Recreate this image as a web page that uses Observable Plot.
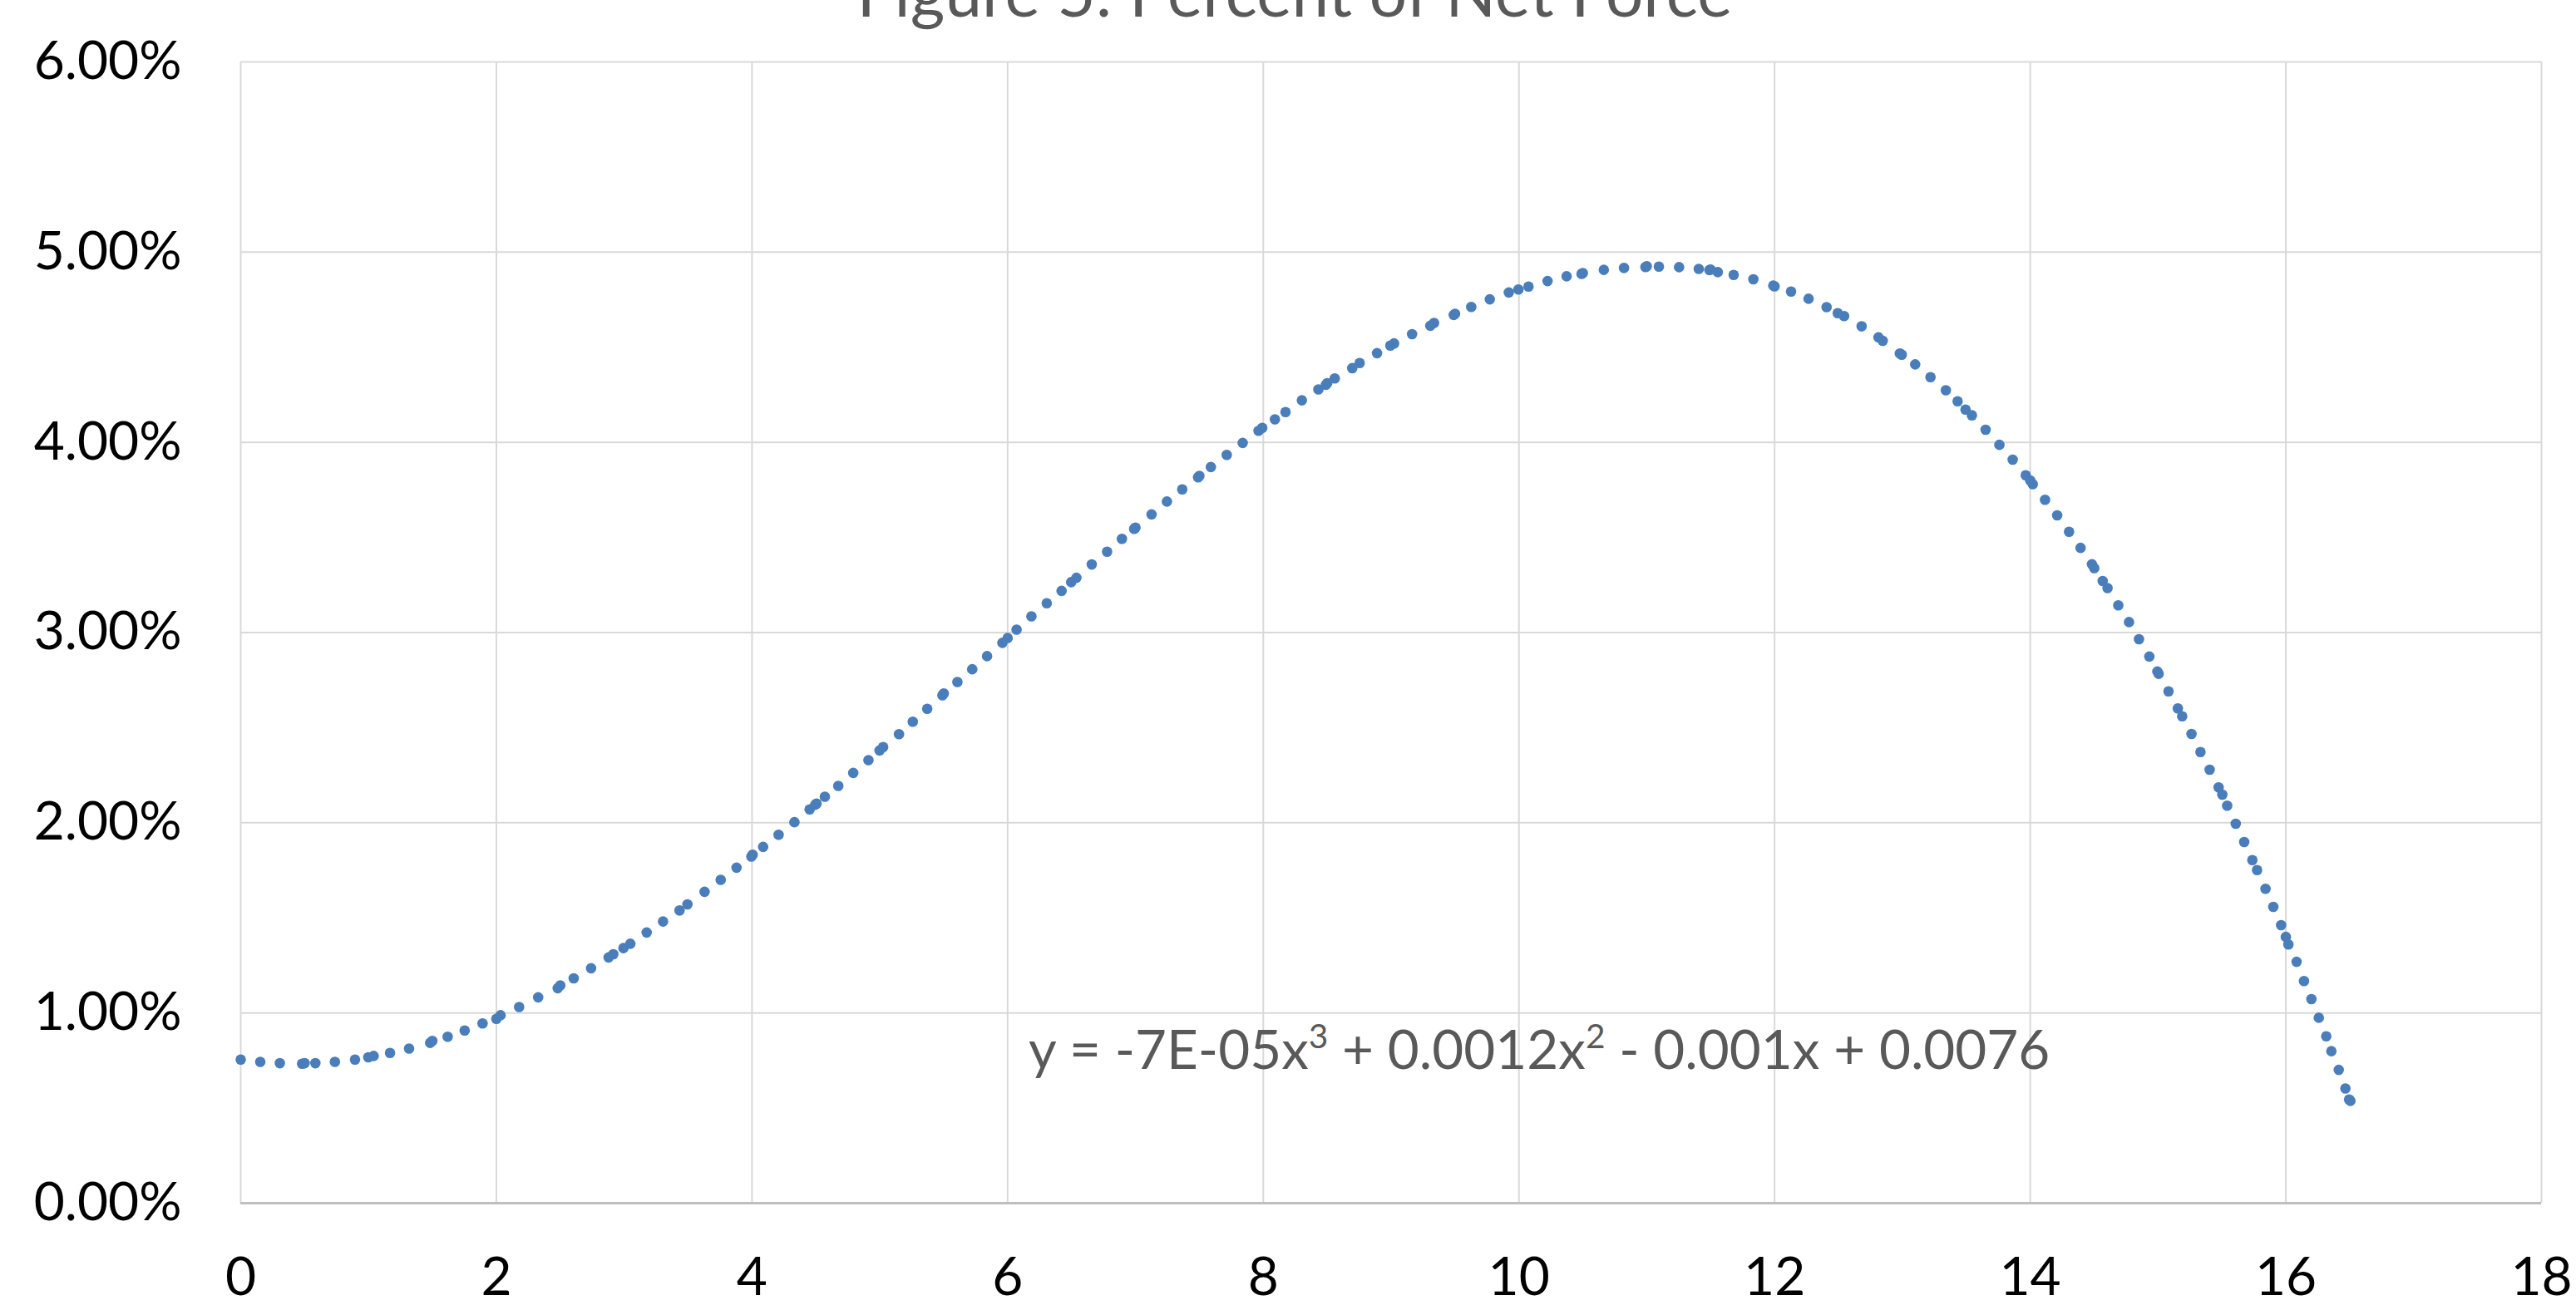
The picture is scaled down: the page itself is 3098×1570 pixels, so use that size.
<!DOCTYPE html>
<html>
<head>
<meta charset="utf-8">
<script src="https://cdn.jsdelivr.net/npm/d3@7"></script>
<script src="https://cdn.jsdelivr.net/npm/@observablehq/plot@0.6"></script>
<style>
  html, body { margin: 0; padding: 0; background: #fff; overflow: hidden; }
  #wrap { position: relative; width: 3098px; height: 1570px; font-family: Lato, "Open Sans", sans-serif; overflow: hidden; }
  #title { position: absolute; left: 0; top: -51px; width: 3098px; box-sizing: border-box; padding-left: 16px;
           text-align: center; font-size: 80px; line-height: 80px; color: #595959; white-space: nowrap; }
  #eq { position: absolute; left: 1237px; top: 1229px; font-size: 65.5px; line-height: 64px; color: #595959; white-space: nowrap; }
  #eq sup { font-size: 0.62em; vertical-align: 0.62em; line-height: 0; }
  #chart { position: absolute; left: 0; top: 0; }
</style>
</head>
<body>
<div id="wrap">
  <div id="chart"></div>
  <div id="title">Figure 5: Percent of Net Force</div>
  <div id="eq">y = -7E-05x<sup>3</sup> + 0.0012x<sup>2</sup> - 0.001x + 0.0076</div>
</div>
<script>
// ---- data ----
const xTicks = [0, 2, 4, 6, 8, 10, 12, 14, 16, 18];
const yTicks = [0, 1, 2, 3, 4, 5, 6]; // percent

const xValues = [
  0, 0.153, 0.306, 0.48, 0.50, 0.584, 0.737, 0.894, 0.998, 1.04,
  1.168, 1.317, 1.482, 1.499, 1.619, 1.752, 1.892, 2.0, 2.033, 2.178,
  2.327, 2.48, 2.50, 2.605, 2.741, 2.878, 2.915, 2.994, 3.048, 3.176,
  3.304, 3.433, 3.495, 3.629, 3.755, 3.879, 3.995, 4.005, 4.087, 4.208,
  4.332, 4.451, 4.495, 4.505, 4.570, 4.675, 4.792, 4.911, 4.998, 5.026,
  5.150, 5.258, 5.371, 5.490, 5.500, 5.607, 5.723, 5.839, 5.959, 6.0,
  6.070, 6.186, 6.306, 6.422, 6.497, 6.538, 6.658, 6.778, 6.894, 6.99,
  7.00, 7.126, 7.246, 7.366, 7.49, 7.50, 7.590, 7.714, 7.839, 7.963,
  7.992, 8.091, 8.174, 8.302, 8.431, 8.49, 8.50, 8.559, 8.696, 8.754,
  8.890, 8.994, 9.023, 9.164, 9.307, 9.336, 9.49, 9.50, 9.627, 9.772,
  9.921, 9.996, 10.075, 10.224, 10.373, 10.49, 10.50, 10.664, 10.822, 10.99,
  11.00, 11.095, 11.253, 11.407, 11.49, 11.50, 11.556, 11.680, 11.834, 11.99,
  12.00, 12.129, 12.266, 12.407, 12.494, 12.544, 12.681, 12.813, 12.846, 12.98,
  12.995, 13.100, 13.220, 13.340, 13.432, 13.494, 13.544, 13.651, 13.759, 13.863,
  13.965, 14.0, 14.02, 14.116, 14.211, 14.304, 14.394, 14.483, 14.501, 14.567,
  14.605, 14.689, 14.773, 14.851, 14.932, 14.995, 15.005, 15.082, 15.155, 15.189,
  15.262, 15.332, 15.404, 15.474, 15.503, 15.541, 15.608, 15.674, 15.738, 15.775,
  15.841, 15.902, 15.963, 16.0, 16.02, 16.084, 16.142, 16.200, 16.258, 16.316,
  16.356, 16.414, 16.466, 16.495, 16.505
];

const percentNetForce = [
  0.755, 0.743, 0.736, 0.733, 0.736, 0.736, 0.743, 0.755, 0.767, 0.774,
  0.790, 0.813, 0.843, 0.853, 0.875, 0.908, 0.945, 0.969, 0.988, 1.031,
  1.082, 1.130, 1.145, 1.182, 1.235, 1.292, 1.309, 1.341, 1.364, 1.423,
  1.481, 1.539, 1.571, 1.637, 1.700, 1.764, 1.822, 1.832, 1.873, 1.937,
  2.003, 2.070, 2.095, 2.101, 2.137, 2.194, 2.262, 2.329, 2.380, 2.398,
  2.466, 2.531, 2.599, 2.670, 2.680, 2.740, 2.807, 2.876, 2.946, 2.971,
  3.015, 3.085, 3.154, 3.219, 3.265, 3.288, 3.358, 3.425, 3.493, 3.545,
  3.552, 3.621, 3.689, 3.753, 3.816, 3.824, 3.870, 3.934, 3.997, 4.061,
  4.076, 4.121, 4.159, 4.221, 4.278, 4.303, 4.311, 4.336, 4.390, 4.417,
  4.469, 4.509, 4.520, 4.569, 4.613, 4.628, 4.670, 4.676, 4.712, 4.752,
  4.788, 4.804, 4.819, 4.848, 4.873, 4.886, 4.890, 4.907, 4.917, 4.922,
  4.926, 4.924, 4.921, 4.912, 4.906, 4.908, 4.895, 4.880, 4.857, 4.824,
  4.820, 4.793, 4.755, 4.711, 4.679, 4.664, 4.610, 4.552, 4.534, 4.467,
  4.461, 4.410, 4.343, 4.274, 4.216, 4.172, 4.142, 4.066, 3.987, 3.909,
  3.827, 3.800, 3.780, 3.698, 3.616, 3.530, 3.445, 3.359, 3.339, 3.271,
  3.234, 3.143, 3.055, 2.965, 2.874, 2.795, 2.783, 2.691, 2.601, 2.560,
  2.467, 2.372, 2.279, 2.186, 2.148, 2.090, 1.995, 1.899, 1.804, 1.751,
  1.653, 1.558, 1.462, 1.400, 1.360, 1.269, 1.168, 1.073, 0.975, 0.877,
  0.799, 0.701, 0.603, 0.545, 0.538
];

const points = xValues.map((x, i) => ({x, y: percentNetForce[i]}));

const chart = Plot.plot({
  width: 3098,
  height: 1570,
  marginLeft: 289,
  marginRight: 42,
  marginTop: 74,
  marginBottom: 123,
  style: {fontFamily: "Lato, 'Open Sans', sans-serif", fontSize: "64px", color: "#000", background: "#fff"},
  x: {domain: [0, 18], ticks: xTicks, tickSize: 0, tickPadding: 65, label: null},
  y: {domain: [0, 6], ticks: yTicks, tickSize: 0, tickPadding: 71, label: null,
      tickFormat: d => d.toFixed(2) + "%"},
  marks: [
    Plot.gridX(xTicks, {stroke: "#d9d9d9", strokeOpacity: 1, strokeWidth: 2}),
    Plot.gridY(yTicks, {stroke: "#d9d9d9", strokeOpacity: 1, strokeWidth: 2}),
    Plot.ruleY([0], {stroke: "#bfbfbf", strokeWidth: 3}),
    Plot.dot(points, {x: "x", y: "y", r: 6.3, fill: "#4a7ebb", stroke: null})
  ]
});
document.getElementById("chart").appendChild(chart);
</script>
</body>
</html>
